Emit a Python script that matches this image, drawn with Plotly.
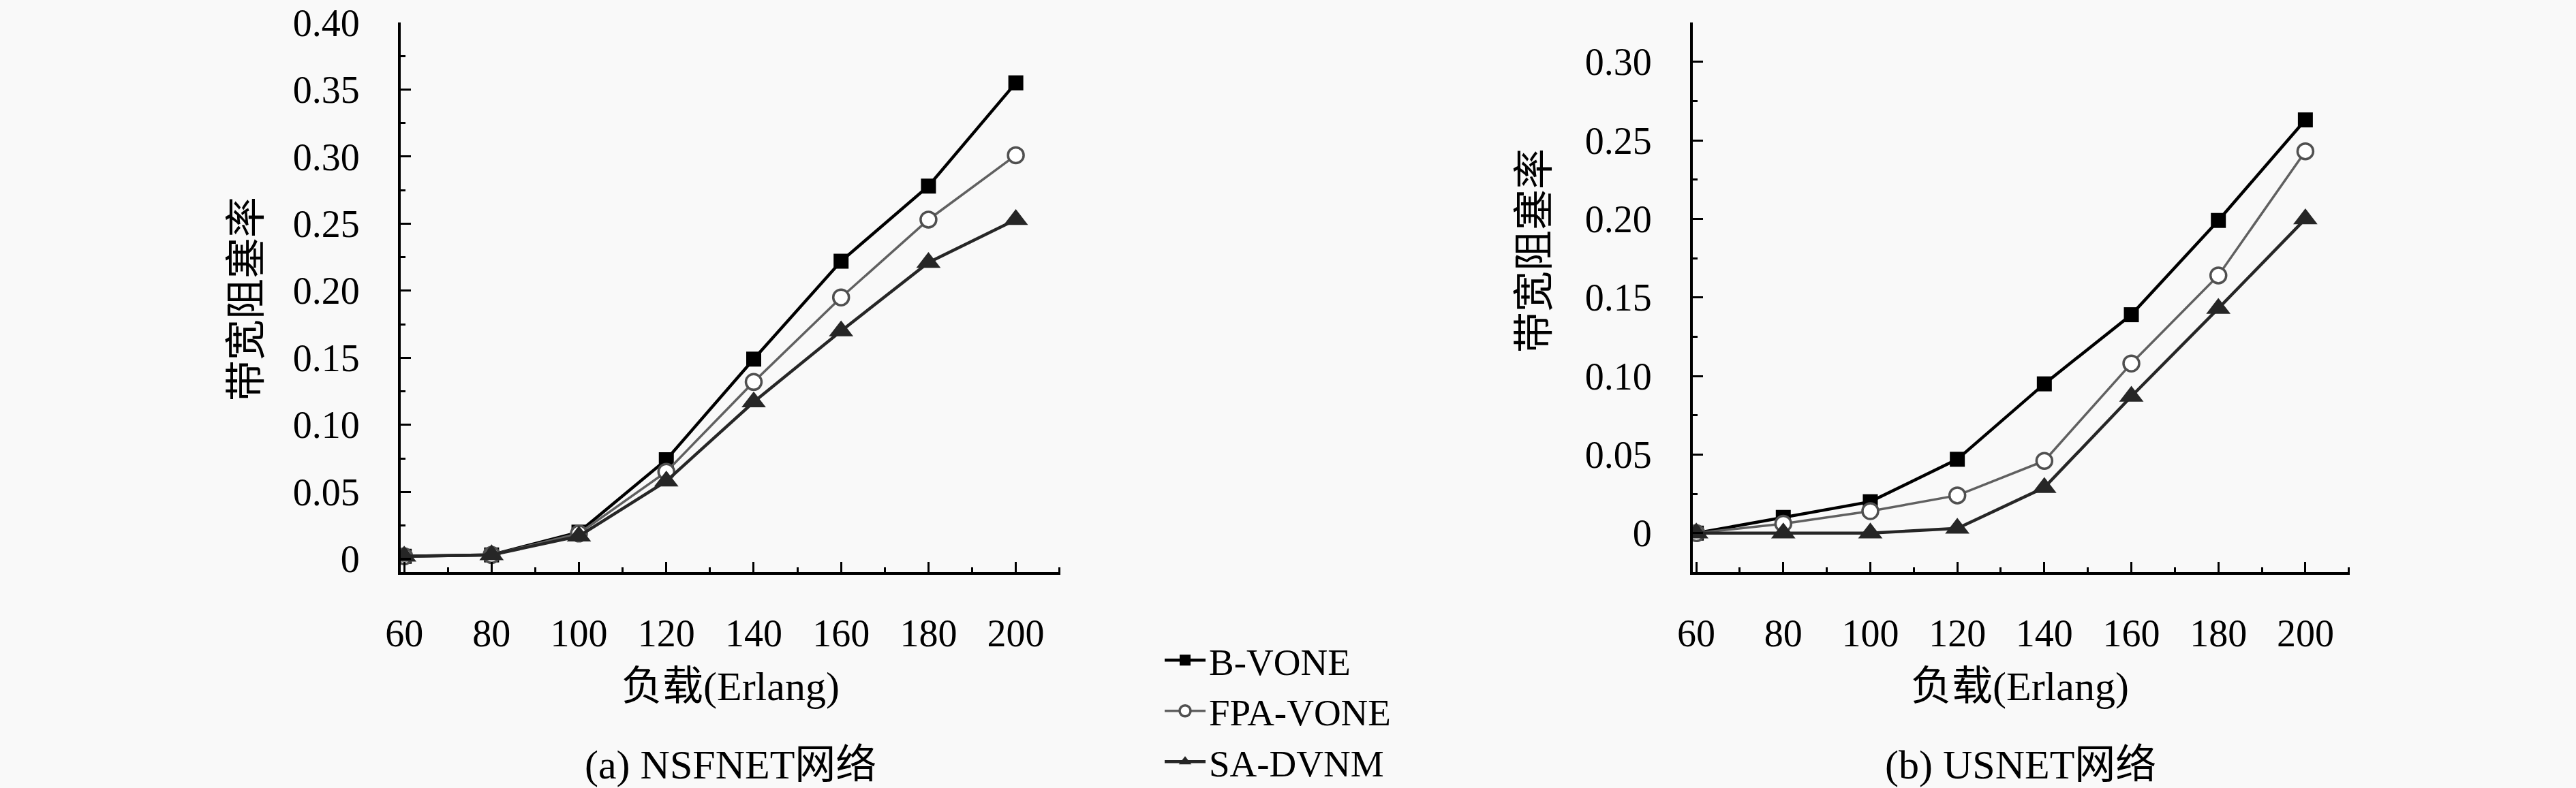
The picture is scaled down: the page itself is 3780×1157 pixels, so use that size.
import plotly.graph_objects as go
from plotly.subplots import make_subplots

# load in Erlang
loads = [60, 80, 100, 120, 140, 160, 180, 200]
load_ticks = ["60", "80", "100", "120", "140", "160", "180", "200"]

# (a) NSFNET bandwidth blocking ratio
nsf_bvone = [0.002, 0.003, 0.020, 0.074, 0.149, 0.222, 0.278, 0.355]
nsf_fpa = [0.002, 0.003, 0.019, 0.065, 0.132, 0.195, 0.253, 0.301]
nsf_sa = [0.002, 0.003, 0.017, 0.058, 0.117, 0.170, 0.221, 0.253]

# (b) USNET bandwidth blocking ratio
us_bvone = [0.0, 0.010, 0.020, 0.047, 0.095, 0.139, 0.199, 0.263]
us_fpa = [0.0, 0.006, 0.014, 0.024, 0.046, 0.108, 0.164, 0.243]
us_sa = [0.0, 0.0, 0.0, 0.003, 0.029, 0.087, 0.143, 0.200]

nsf_yticks = [0, 0.05, 0.10, 0.15, 0.20, 0.25, 0.30, 0.35, 0.40]
nsf_ylabels = ["0", "0.05", "0.10", "0.15", "0.20", "0.25", "0.30", "0.35", "0.40"]
us_yticks = [0, 0.05, 0.10, 0.15, 0.20, 0.25, 0.30]
us_ylabels = ["0", "0.05", "0.10", "0.15", "0.20", "0.25", "0.30"]

W, H = 3780, 1157
FONT = "Liberation Serif, Noto Sans CJK SC, serif"
FS = 56      # tick labels
FS_TXT = 60  # titles, captions
FS_LEG = 55


def px(x):
    return x / W


def py(y):
    return 1 - y / H


series = [
    ("B-VONE", dict(color="#000000", width=4.5),
     dict(symbol="square", size=22, color="#000000")),
    ("FPA-VONE", dict(color="#606060", width=3.5),
     dict(symbol="circle", size=23, color="#ffffff",
          line=dict(color="#505050", width=3.5))),
    ("SA-DVNM", dict(color="#262626", width=4.5),
     dict(symbol="triangle-up", size=31, color="#262626")),
]

fig = make_subplots(rows=1, cols=2)

for col, data in ((1, [nsf_bvone, nsf_fpa, nsf_sa]), (2, [us_bvone, us_fpa, us_sa])):
    for (name, line, marker), ys in zip(series, data):
        fig.add_trace(go.Scatter(
            x=loads, y=ys, name=name, mode="lines+markers",
            line=line, marker=marker, showlegend=(col == 1),
        ), row=1, col=col)

axis_style = dict(
    automargin=False,
    showline=True, linecolor="black", linewidth=4,
    showgrid=False, zeroline=False,
    ticks="inside", ticklen=15, tickwidth=3, tickcolor="black",
    tickfont=dict(family=FONT, size=FS, color="black"),
)

fig.update_xaxes(
    range=[59.2, 210.2], tickvals=loads, ticktext=load_ticks,
    minor=dict(dtick=10, tick0=60, ticks="inside", ticklen=7,
               tickwidth=3, tickcolor="black"),
    ticklabelstandoff=38, **axis_style,
)
fig.update_yaxes(
    minor=dict(dtick=0.025, tick0=0, ticks="inside", ticklen=7,
               tickwidth=3, tickcolor="black"),
    ticklabelstandoff=45, **axis_style,
)

fig.update_xaxes(domain=[px(588), px(1556)], row=1, col=1)
fig.update_xaxes(domain=[px(2484), px(3448)], row=1, col=2)
fig.update_yaxes(domain=[py(840), py(33)], range=[-0.0098, 0.40],
                 tickvals=nsf_yticks, ticktext=nsf_ylabels, row=1, col=1)
fig.update_yaxes(domain=[py(840), py(33)], range=[-0.0248, 0.325],
                 tickvals=us_yticks, ticktext=us_ylabels, row=1, col=2)

texts = [
    ("带宽阻塞率", 362, 439, -90),
    ("带宽阻塞率", 2252, 368, -90),
    ("负载(Erlang)", 1072, 1008, 0),
    ("负载(Erlang)", 2964, 1008, 0),
    ("(a) NSFNET网络", 1072, 1123, 0),
    ("(b) USNET网络", 2965, 1123, 0),
]
for t, x, y, ang in texts:
    fig.add_annotation(
        text=t, x=px(x), y=py(y), xref="paper", yref="paper",
        xanchor="center", yanchor="middle", textangle=ang, showarrow=False,
        font=dict(family=FONT, size=FS_TXT, color="black"),
    )

fig.update_layout(
    template="none",
    width=W, height=H,
    margin=dict(l=0, r=0, t=0, b=0, pad=0, autoexpand=False),
    paper_bgcolor="#f9f9f9", plot_bgcolor="#f9f9f9",
    font=dict(family=FONT, size=FS, color="black"),
    legend=dict(
        x=px(1704), y=py(927), xanchor="left", yanchor="top",
        bgcolor="rgba(0,0,0,0)", itemwidth=60, tracegroupgap=0,
        font=dict(family=FONT, size=FS_LEG, color="black"),
    ),
)

fig.write_html(
    "out.html",
    config={"displayModeBar": False},
    post_script="document.body.style.margin='0';"
                "document.body.style.overflow='hidden';",
)
